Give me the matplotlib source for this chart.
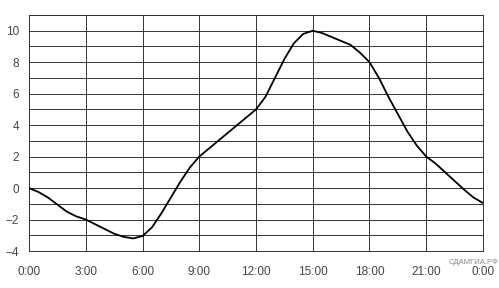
import matplotlib
matplotlib.use("Agg")
import matplotlib.pyplot as plt

# hours (0..24, half-hour steps) and temperature
hours = [0, 0.5, 1, 1.5, 2, 2.5, 3, 3.5, 4, 4.5, 5, 5.5, 6, 6.5, 7, 7.5, 8, 8.5,
         9, 9.5, 10, 10.5, 11, 11.5, 12, 12.5, 13, 13.5, 14, 14.5, 15, 15.5, 16,
         16.5, 17, 17.5, 18, 18.5, 19, 19.5, 20, 20.5, 21, 21.5, 22, 22.5, 23,
         23.5, 24]
temps = [0, -0.25, -0.6, -1.05, -1.5, -1.8, -2.0, -2.3, -2.6, -2.9, -3.1, -3.2,
         -3.05, -2.5, -1.6, -0.6, 0.4, 1.3, 2.0, 2.5, 3.0, 3.5, 4.0, 4.5, 5.0,
         5.8, 7.0, 8.2, 9.2, 9.8, 10.0, 9.85, 9.6, 9.35, 9.1, 8.6, 8.0, 7.0, 5.8,
         4.7, 3.6, 2.7, 2.0, 1.55, 1.0, 0.45, -0.1, -0.6, -0.95]

x_ticks = [0, 3, 6, 9, 12, 15, 18, 21, 24]
x_labels = ["0:00", "3:00", "6:00", "9:00", "12:00", "15:00", "18:00", "21:00", "0:00"]
y_ticks = [-4, -2, 0, 2, 4, 6, 8, 10]

plt.rcParams['font.family'] = ['Liberation Sans', 'DejaVu Sans']

fig = plt.figure(figsize=(4.99, 2.88), dpi=100)
ax = fig.add_axes([29 / 499, 1 - 251 / 288, 454 / 499, 236 / 288])

# grid: every unit horizontally, every 3 hours vertically
for y in range(-4, 12):
    ax.axhline(y, color="#333333", lw=0.7, zorder=1)
for x in x_ticks:
    ax.axvline(x, color="#333333", lw=0.7, zorder=1)

ax.plot(hours, temps, color="black", lw=1.3, zorder=3)

ax.set_xlim(0, 24)
ax.set_ylim(-4, 11)
ax.set_xticks(x_ticks)
ax.set_xticklabels(x_labels)
ax.set_yticks(y_ticks)
ax.tick_params(length=0, labelsize=8.5, labelcolor="#444444")
ax.tick_params(axis="x", pad=11)
ax.tick_params(axis="y", pad=7)
for s in ax.spines.values():
    s.set_color("#333333")
    s.set_linewidth(0.7)

fig.text(474 / 499, 1 - 262 / 288, "СДАМГИА.РФ", fontsize=5.5, color="#888888",
         ha="center", va="center")

fig.savefig("out.png", dpi=100)
